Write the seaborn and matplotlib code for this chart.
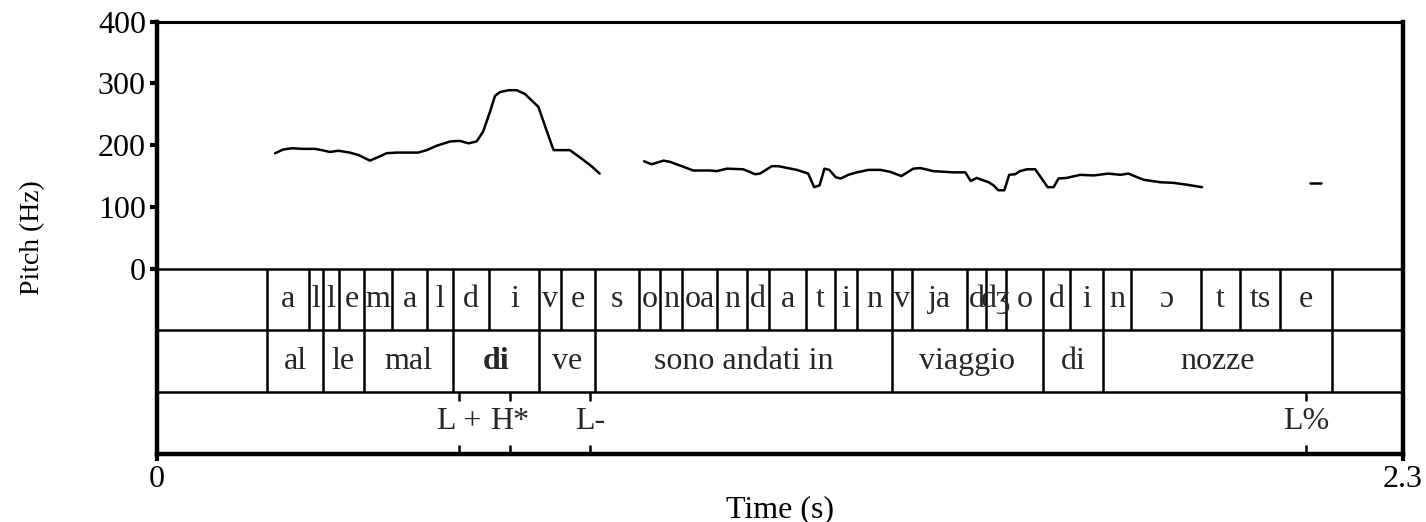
import matplotlib
matplotlib.use('Agg')
import matplotlib.pyplot as plt
import pandas as pd
import seaborn as sns

# pitch track (time in s, F0 in Hz), three voiced stretches
seg1_time = [0.218, 0.233, 0.249, 0.270, 0.292, 0.304, 0.319, 0.335, 0.356, 0.372,
             0.393, 0.409, 0.424, 0.442, 0.482, 0.498, 0.516, 0.541, 0.559, 0.575,
             0.590, 0.602, 0.615, 0.624, 0.633, 0.649, 0.664, 0.679, 0.704, 0.719,
             0.732, 0.762, 0.781, 0.802, 0.817]
seg1_hz = [187, 193, 195, 194, 194, 192, 189, 191, 188, 184,
           175, 181, 187, 188, 188, 192, 199, 206, 207, 203,
           206, 222, 255, 280, 286, 289, 289, 283, 262, 224,
           192, 192, 180, 166, 154]

seg2_time = [0.899, 0.913, 0.935, 0.947, 0.990, 1.021, 1.033, 1.052, 1.082, 1.104,
             1.113, 1.135, 1.147, 1.181, 1.202, 1.213, 1.223, 1.232, 1.241, 1.253,
             1.262, 1.276, 1.292, 1.313, 1.335, 1.353, 1.374, 1.396, 1.409, 1.433,
             1.470, 1.492, 1.502, 1.513, 1.535, 1.544, 1.553, 1.564, 1.573, 1.584,
             1.593, 1.606, 1.621, 1.633, 1.644, 1.655, 1.664, 1.679, 1.704, 1.729,
             1.756, 1.778, 1.793, 1.821, 1.852, 1.876, 1.901, 1.929]
seg2_hz = [174, 169, 175, 173, 159, 159, 158, 162, 161, 153,
           154, 166, 166, 160, 154, 132, 135, 162, 160, 148,
           146, 152, 156, 160, 160, 157, 150, 162, 163, 158,
           156, 156, 142, 147, 140, 135, 127, 127, 152, 153,
           158, 161, 161, 146, 132, 132, 146, 147, 152, 151,
           154, 152, 154, 144, 140, 139, 136, 132]

seg3_time = [2.128, 2.149]
seg3_hz = [138, 138]

# segment tier
phone_bounds = [0.2036, 0.2811, 0.3059, 0.336, 0.382, 0.4344, 0.4979, 0.5459, 0.6134,
                0.7057, 0.7453, 0.8085, 0.8903, 0.9286, 0.9686, 1.0343, 1.0886, 1.1298,
                1.1981, 1.2516, 1.2928, 1.3563, 1.3932, 1.4947, 1.5304, 1.5673, 1.6350,
                1.6854, 1.7469, 1.7980, 1.9267, 1.9993, 2.0731, 2.1686]
phone_labels = ['a', 'l', 'l', 'e', 'm', 'a', 'l', 'd', 'i', 'v', 'e',
                's', 'o', 'n', 'oa', 'n', 'd', 'a', 't', 'i', 'n',
                'v', 'ja', 'd', 'dʒ', 'o', 'd', 'i', 'n', 'ɔ', 't', 'ts', 'e']

# syllable / word tier
word_bounds = [0.2036, 0.3059, 0.382, 0.5459, 0.7057, 0.8085, 1.3563, 1.6350, 1.7469, 2.1686]
word_labels = ['al', 'le', 'mal', 'di', 've', 'sono andati in', 'viaggio', 'di', 'nozze']
bold_word = 3

# tone tier (points)
tone_times = [0.5573, 0.6518, 0.7997, 2.1211]
tone_labels = ['L +', 'H*', 'L-', 'L%']

sns.set_theme(style='white')
serif = ['Liberation Serif', 'DejaVu Serif']
plt.rcParams['font.family'] = serif

fig = plt.figure(figsize=(14.26, 5.22), dpi=100)
ax = fig.add_axes([0.1101, 0.1303, 0.8738, 0.8282])

pitch = pd.concat([
    pd.DataFrame({'time': seg1_time, 'hz': seg1_hz, 'seg': 1}),
    pd.DataFrame({'time': seg2_time, 'hz': seg2_hz, 'seg': 2}),
    pd.DataFrame({'time': seg3_time, 'hz': seg3_hz, 'seg': 3}),
])
sns.lineplot(data=pitch, x='time', y='hz', units='seg', estimator=None,
             color='black', lw=1.8, ax=ax)

ax.set_xlim(0, 2.3)
ax.set_ylim(-300, 400)

# tier separators
tier_h = 100
for y in [0, -100, -200]:
    ax.axhline(y, color='black', lw=1.8)

fs = 23
# interval tiers
tiers = [(phone_bounds, phone_labels, 0), (word_bounds, word_labels, 1)]
for bounds, labels, k in tiers:
    top = -k * tier_h
    bot = top - tier_h
    ax.vlines(bounds, bot, top, color='black', lw=1.8)
    for i, lab in enumerate(labels):
        mid = (bounds[i] + bounds[i + 1]) / 2
        weight = 'bold' if (k == 1 and i == bold_word) else 'normal'
        ax.text(mid, (top + bot) / 2, lab, ha='center', va='center',
                fontsize=fs, fontweight=weight, family=serif)

# point tier
top, bot = -200, -300
ax.vlines(tone_times, top - 15, top, color='black', lw=1.8)
ax.vlines(tone_times, bot, bot + 15, color='black', lw=1.8)
for t, lab in zip(tone_times, tone_labels):
    ax.text(t, (top + bot) / 2 + 3, lab, ha='center', va='center',
            fontsize=fs, family=serif)

ax.set_yticks([0, 100, 200, 300, 400])
ax.set_yticklabels(['0', '100', '200', '300', '400'], fontsize=fs)
ax.set_xticks([0, 2.3])
ax.set_xticklabels(['0', '2.3'], fontsize=fs)
ax.tick_params(axis='both', direction='out', length=5, width=3, color='black',
               labelcolor='black', left=True, bottom=True, pad=3)

ax.set_xlabel('Time (s)', fontsize=fs, color='black', labelpad=1)
ax.set_ylabel('Pitch (Hz)', fontsize=20, color='black')
ax.yaxis.set_label_coords(-0.090, 0.5)

for side, lw in [('left', 3.2), ('bottom', 3.2), ('right', 3.2), ('top', 2.2)]:
    ax.spines[side].set_visible(True)
    ax.spines[side].set_color('black')
    ax.spines[side].set_linewidth(lw)

ax.grid(False)
fig.savefig('out.png', dpi=100, facecolor='white')
